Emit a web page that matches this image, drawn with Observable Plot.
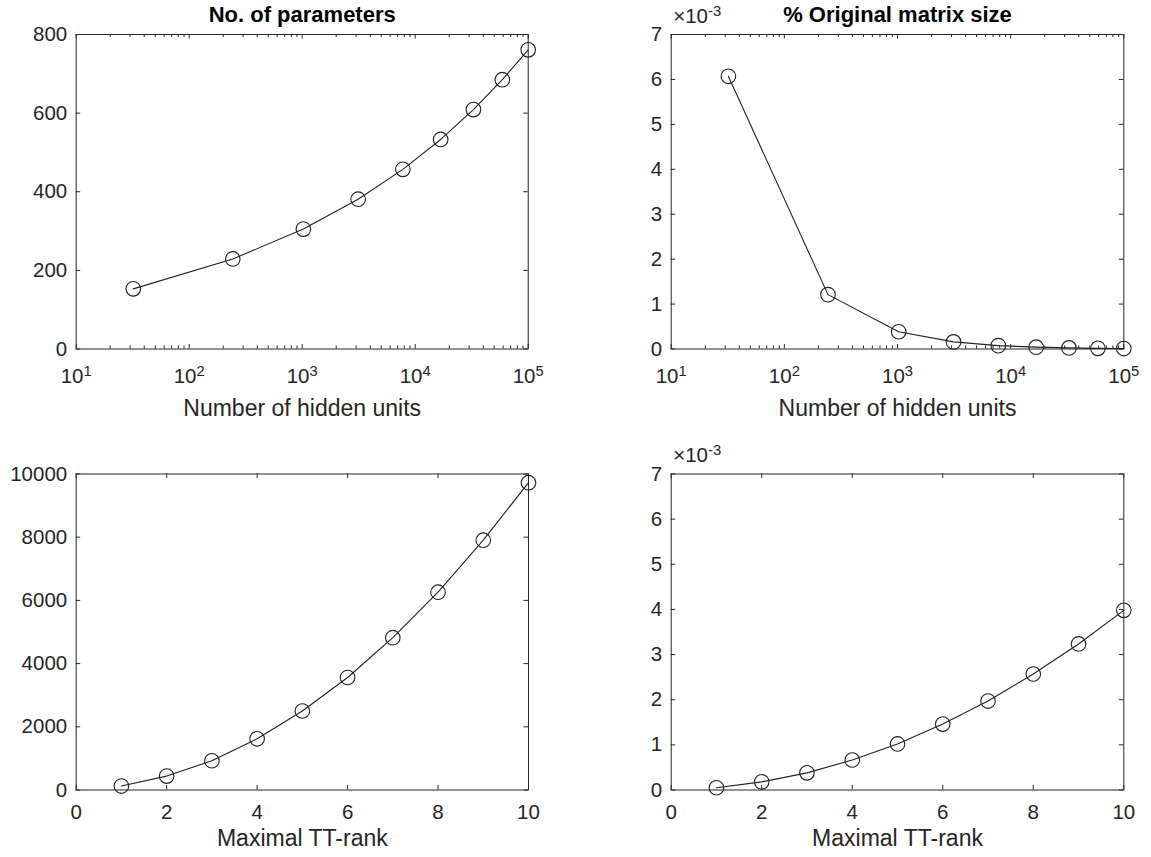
<!DOCTYPE html>
<html><head><meta charset="utf-8">
<script src="https://cdn.jsdelivr.net/npm/d3@7"></script>
<script src="https://cdn.jsdelivr.net/npm/@observablehq/plot@0.6"></script>
<style>
body{margin:0;background:#fff;}
#fig{position:relative;width:1151px;height:857px;background:#fff;overflow:hidden;}
#fig svg{position:absolute;overflow:visible;}
</style></head><body><div id="fig"></div>
<script>
// ---- data ----
const hiddenUnits   = [32, 243, 1024, 3125, 7776, 16807, 32768, 59049, 100000];
const paramsVsUnits = [153, 229, 305, 381, 457, 533, 609, 685, 761];
const pctVsUnits    = [6.07e-3, 1.21e-3, 0.384e-3, 0.158e-3, 0.075e-3, 0.041e-3, 0.024e-3, 0.015e-3, 0.010e-3];
const ttRank        = [1, 2, 3, 4, 5, 6, 7, 8, 9, 10];
const paramsVsRank  = [125, 440, 925, 1620, 2500, 3560, 4820, 6260, 7905, 9725];
const pctVsRank     = [0.05e-3, 0.18e-3, 0.38e-3, 0.665e-3, 1.02e-3, 1.46e-3, 1.97e-3, 2.57e-3, 3.235e-3, 3.98e-3];

// ---- tick values / labels ----
const logMajorTicks = [10, 100, 1000, 10000, 100000];
const logMinorTicks = [20,30,40,50,60,70,80,90, 200,300,400,500,600,700,800,900,
                       2000,3000,4000,5000,6000,7000,8000,9000, 20000,30000,40000,50000,60000,70000,80000,90000];
const rankTicks   = [0, 2, 4, 6, 8, 10];
const paramsTicks = [0, 200, 400, 600, 800];
const paramsRankTicks = [0, 2000, 4000, 6000, 8000, 10000];
const pctTicks    = [0, 0.001, 0.002, 0.003, 0.004, 0.005, 0.006, 0.007];

const titles = ["No. of parameters", "% Original matrix size"];
const xLabels = ["Number of hidden units", "Maximal TT-rank"];
const exponentLabel = "×10^-3";

const AX = "#262626";
const LINE = "#222222";
const FONT = '"Liberation Sans", Arial, Helvetica, sans-serif';
const MAJOR = 4.5, MINOR = 3;

function panel(o) {
  const data = o.xs.map((x, i) => ({x, y: o.ys[i]}));
  const fw = o.width - o.ml - o.mr, fh = o.height - o.mt - o.mb;
  const marks = [
    Plot.frame({stroke: AX, strokeWidth: 1}),
    Plot.tickX(o.xTicks, {x: d => d, insetTop: fh - MAJOR, stroke: AX}),
    Plot.tickX(o.xTicks, {x: d => d, insetBottom: fh - MAJOR, stroke: AX}),
    Plot.tickY(o.yTicks, {y: d => d, insetRight: fw - MAJOR, stroke: AX}),
    Plot.tickY(o.yTicks, {y: d => d, insetLeft: fw - MAJOR, stroke: AX}),
    Plot.axisX({anchor: "bottom", ticks: o.xTicks, tickSize: 0, tickPadding: o.xPad, tickFormat: o.xFmt, label: null}),
    Plot.axisY({anchor: "left", ticks: o.yTicks, tickSize: 0, tickPadding: 9, tickFormat: o.yFmt, label: null}),
    Plot.line(data, {x: "x", y: "y", stroke: LINE, strokeWidth: 1.1}),
    Plot.dot(data, {x: "x", y: "y", r: 7.3, stroke: LINE, fill: "none", strokeWidth: 1.1}),
    Plot.text([o.xLabel], {text: d => d, frameAnchor: "bottom", lineAnchor: "middle", dy: o.labelDy, fontSize: 23, fill: AX})
  ];
  if (o.xMinor) {
    marks.push(Plot.tickX(o.xMinor, {x: d => d, insetTop: fh - MINOR, stroke: AX}));
    marks.push(Plot.tickX(o.xMinor, {x: d => d, insetBottom: fh - MINOR, stroke: AX}));
  }
  if (o.title) marks.push(Plot.text([o.title], {text: d => d, frameAnchor: "top", lineAnchor: "bottom", dy: -12.5, fontSize: 22, fontWeight: "bold", fill: "#000"}));
  if (o.exponent) marks.push(Plot.text([o.exponent], {text: d => d, frameAnchor: "top-left", textAnchor: "start", lineAnchor: "bottom", dx: 2, dy: -12, fontSize: 20.5, fill: AX}));

  const svg = Plot.plot({
    width: o.width, height: o.height,
    marginLeft: o.ml, marginRight: o.mr, marginTop: o.mt, marginBottom: o.mb,
    x: {type: o.xType, domain: o.xDomain},
    y: {type: "linear", domain: o.yDomain},
    style: {fontSize: "20.5px", fontFamily: FONT, color: AX, background: "transparent", overflow: "visible"},
    marks
  });
  // render "a^b" strings as superscripts
  svg.querySelectorAll("text").forEach(t => {
    const s = t.textContent;
    if (t.children.length === 0 && s.includes("^")) {
      const [b, e] = s.split("^");
      t.textContent = "";
      const ns = "http://www.w3.org/2000/svg";
      const t1 = document.createElementNS(ns, "tspan"); t1.textContent = b;
      const t2 = document.createElementNS(ns, "tspan"); t2.textContent = e;
      t2.setAttribute("dy", "-0.45em"); t2.setAttribute("font-size", "0.72em");
      t.appendChild(t1); t.appendChild(t2);
    }
  });
  svg.style.left = o.left + "px";
  svg.style.top = o.top + "px";
  document.getElementById("fig").appendChild(svg);
}

const logFmt = d => "10^" + Math.round(Math.log10(d));
const pctFmt = d => String(Math.round(d * 1000));

panel({left: 0, top: 0, width: 575, height: 430, ml: 75.7, mr: 47.3, mt: 34, mb: 81.5,
  xs: hiddenUnits, ys: paramsVsUnits, xType: "log", xDomain: [10, 1e5], yDomain: [0, 800],
  xTicks: logMajorTicks, xMinor: logMinorTicks, yTicks: paramsTicks, xFmt: logFmt, yFmt: d => String(d),
  xPad: 19, labelDy: 60, title: titles[0], xLabel: xLabels[0]});
panel({left: 575, top: 0, width: 576, height: 430, ml: 95.7, mr: 27.7, mt: 34, mb: 81.5,
  xs: hiddenUnits, ys: pctVsUnits, xType: "log", xDomain: [10, 1e5], yDomain: [0, 0.007],
  xTicks: logMajorTicks, xMinor: logMinorTicks, yTicks: pctTicks, xFmt: logFmt, yFmt: pctFmt,
  xPad: 19, labelDy: 60, title: titles[1], xLabel: xLabels[0], exponent: exponentLabel});
panel({left: 0, top: 430, width: 575, height: 427, ml: 75.7, mr: 47, mt: 43.5, mb: 67.5,
  xs: ttRank, ys: paramsVsRank, xType: "linear", xDomain: [0, 10], yDomain: [0, 10000],
  xTicks: rankTicks, yTicks: paramsRankTicks, xFmt: d => String(d), yFmt: d => String(d),
  xPad: 14, labelDy: 49, xLabel: xLabels[1]});
panel({left: 575, top: 430, width: 576, height: 427, ml: 95.7, mr: 27.7, mt: 43.5, mb: 67.5,
  xs: ttRank, ys: pctVsRank, xType: "linear", xDomain: [0, 10], yDomain: [0, 0.007],
  xTicks: rankTicks, yTicks: pctTicks, xFmt: d => String(d), yFmt: pctFmt,
  xPad: 14, labelDy: 49, xLabel: xLabels[1], exponent: exponentLabel});
</script></body></html>
